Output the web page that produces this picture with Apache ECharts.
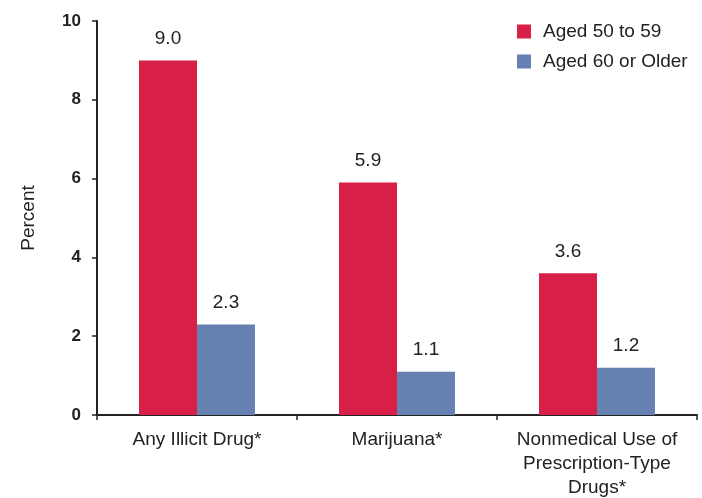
<!DOCTYPE html>
<html><head><meta charset="utf-8">
<script src="https://cdn.jsdelivr.net/npm/echarts@6/dist/echarts.min.js"></script>
<style>html,body{margin:0;padding:0;background:#fff}#c{width:702px;height:498px}</style>
</head><body><div id="c"></div>
<script>
const categories = ['Any Illicit Drug*', 'Marijuana*', 'Nonmedical Use of\nPrescription-Type\nDrugs*'];
const seriesNames = ['Aged 50 to 59', 'Aged 60 or Older'];
const aged50to59 = [9.0, 5.9, 3.6];
const aged60plus = [2.3, 1.1, 1.2];
const yTicks = [0, 2, 4, 6, 8, 10];

const font = 'Liberation Sans, Arial, sans-serif';
const chart = echarts.init(document.getElementById('c'), null, {renderer: 'canvas'});
const lbl = {show: true, position: 'top', distance: 12, color: '#222', fontSize: 19, fontFamily: font,
  formatter: p => p.value.toFixed(1)};
chart.setOption({
  animation: false,
  color: ['#D81F48', '#6680B2'],
  textStyle: {fontFamily: font},
  grid: {left: 97, right: 5, top: 21, bottom: 83, containLabel: false, outerBoundsMode: 'none'},
  legend: {
    orient: 'vertical', left: 517, top: 22, itemWidth: 14, itemHeight: 14, itemGap: 11,
    padding: 0,
    icon: 'rect', textStyle: {fontSize: 19, color: '#222', fontFamily: font, lineHeight: 14, padding: [0, 0, 0, 7]},
    data: seriesNames
  },
  xAxis: {
    type: 'category', data: categories,
    axisLine: {lineStyle: {color: '#222', width: 2}},
    axisTick: {show: true, interval: 0, length: 5, lineStyle: {color: '#222', width: 1.5}},
    axisLabel: {interval: 0, fontSize: 19, color: '#222', margin: 13, lineHeight: 24, fontFamily: font}
  },
  yAxis: {
    type: 'value', min: 0, max: 10, interval: 2,
    name: 'Percent', nameLocation: 'middle', nameGap: 59, nameRotate: 90,
    nameTextStyle: {fontSize: 19, color: '#222', fontFamily: font},
    axisLine: {show: true, lineStyle: {color: '#222', width: 2}},
    axisTick: {show: true, length: 5, lineStyle: {color: '#222', width: 1.5}},
    splitLine: {show: false},
    axisLabel: {fontSize: 17, color: '#222', margin: 16, fontWeight: 'bold', fontFamily: font,
      formatter: v => yTicks.includes(v) ? String(v) : ''}
  },
  series: [
    {name: seriesNames[0], type: 'bar', data: aged50to59, barWidth: 58, barGap: '0%', label: lbl},
    {name: seriesNames[1], type: 'bar', data: aged60plus, barWidth: 58, barGap: '0%', label: lbl}
  ]
});
</script></body></html>
